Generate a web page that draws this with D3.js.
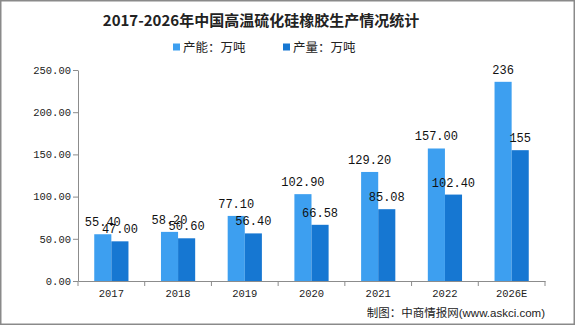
<!DOCTYPE html>
<html><head><meta charset="utf-8">
<script src="https://cdn.jsdelivr.net/npm/d3@7"></script>
<style>
html,body{margin:0;padding:0;background:#fff;}
svg{display:block;}
</style></head>
<body>
<svg id="chart" width="576" height="326"></svg>
<script>
const categories = ["2017","2018","2019","2020","2021","2022","2026E"];
const capacity = [55.40, 58.20, 77.10, 102.90, 129.20, 157.00, 236];
const production = [47.00, 50.60, 56.40, 66.58, 85.08, 102.40, 155];
const yTicks = [0, 50, 100, 150, 200, 250];
const seriesNames = ["产能：万吨", "产量：万吨"];
const colors = ["#3d9ff0", "#1677d2"];
const titleText = "2017-2026年中国高温硫化硅橡胶生产情况统计";

const svg = d3.select("#chart");
const W = 576, H = 326;
const m = {left: 78, right: 31, top: 70, bottom: 45};

const x = d3.scaleBand().domain(categories).range([m.left, W - m.right]).padding(0);
const inner = d3.scaleBand().domain([0,1]).range([0, x.bandwidth()]).paddingInner(0).paddingOuter(0.95);
const y = d3.scaleLinear().domain([0, 250]).range([H - m.bottom, m.top]);

// border
svg.append("rect").attr("x", 0.75).attr("y", 0.75).attr("width", W - 2.5).attr("height", H - 2.5)
  .attr("fill", "none").attr("stroke", "#8a8a8a").attr("stroke-width", 1.5);

// title
svg.append("text").attr("x", 261).attr("y", 26).attr("text-anchor", "middle")
  .attr("font-family", "Noto Sans CJK SC").attr("font-weight", "bold").attr("font-size", 15)
  .attr("fill", "#222").text(titleText);

// legend
const lg = svg.append("g").attr("font-family", "Noto Sans CJK SC").attr("font-size", 12.5).attr("fill", "#222");
const legX = [173, 283];
seriesNames.forEach((n, i) => {
  lg.append("rect").attr("x", legX[i]).attr("y", 43.5).attr("width", 7).attr("height", 7).attr("fill", colors[i]);
  lg.append("text").attr("x", legX[i] + 10).attr("y", 51.5).text(n);
});

// axes
const yAxis = svg.append("g").attr("transform", `translate(${m.left},0)`)
  .call(d3.axisLeft(y).tickValues(yTicks).tickFormat(d3.format(".2f")).tickSize(5).tickSizeOuter(0));
const xAxis = svg.append("g").attr("transform", `translate(0,${H - m.bottom})`)
  .call(d3.axisBottom(x).tickSize(0).tickSizeOuter(0));
[yAxis, xAxis].forEach(g => {
  g.select(".domain").attr("stroke", "#8c8c8c");
  g.selectAll(".tick line").attr("stroke", "#8c8c8c");
  g.selectAll("text").attr("font-family", "Liberation Mono").attr("font-size", 10.5).attr("fill", "#222");
});
yAxis.selectAll("text").attr("x", -7);
xAxis.selectAll("text").attr("dy", "1.05em").attr("y", 5);
const bounds = categories.map(c => x(c)).concat([x(categories[categories.length-1]) + x.bandwidth()]);
xAxis.selectAll(".bt").data(bounds).enter().append("line").attr("class","bt")
  .attr("x1", d => d).attr("x2", d => d).attr("y1", 0).attr("y2", 5).attr("stroke", "#8c8c8c");

// bars
const rows = categories.map((c, i) => ({c, vals: [capacity[i], production[i]]}));
const fmt = (c, v) => c.endsWith("E") ? String(v) : v.toFixed(2);
const g = svg.append("g");
rows.forEach(r => {
  r.vals.forEach((v, k) => {
    g.append("rect").attr("x", x(r.c) + inner(k)).attr("y", y(v))
      .attr("width", inner.bandwidth()).attr("height", y(0) - y(v)).attr("fill", colors[k]);
  });
});
rows.forEach(r => {
  r.vals.forEach((v, k) => {
    g.append("text").attr("x", x(r.c) + inner(k) + inner.bandwidth() / 2).attr("y", y(v) - 8)
      .attr("text-anchor", "middle").attr("font-family", "Liberation Mono").attr("font-size", 12)
      .attr("fill", "#111").text(fmt(r.c, v));
  });
});

// source
const src = svg.append("text").attr("x", 545).attr("y", 317).attr("text-anchor", "end").attr("fill", "#222");
src.append("tspan").attr("font-family", "Noto Sans CJK SC").attr("font-size", 11.5).text("制图：中商情报网");
src.append("tspan").attr("font-family", "Liberation Sans").attr("font-size", 11.5).text("(www.askci.com)");
</script>
</body></html>
